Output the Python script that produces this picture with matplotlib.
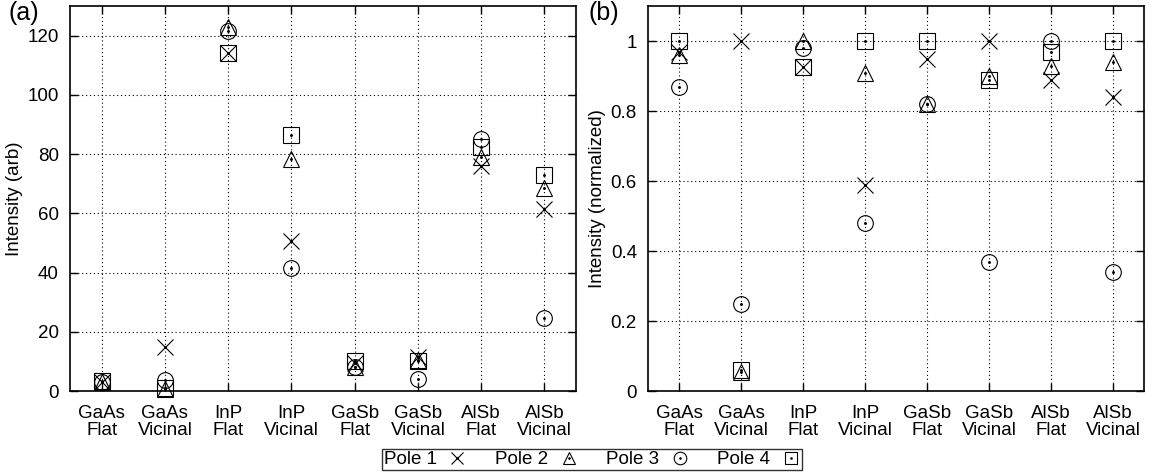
import matplotlib
matplotlib.use("Agg")
import matplotlib.pyplot as plt
from matplotlib.legend_handler import HandlerTuple

plt.rcParams['font.family'] = ['Liberation Sans', 'DejaVu Sans']

categories = ["GaAs\nFlat", "GaAs\nVicinal", "InP\nFlat", "InP\nVicinal",
              "GaSb\nFlat", "GaSb\nVicinal", "AlSb\nFlat", "AlSb\nVicinal"]
series = ["Pole 1", "Pole 2", "Pole 3", "Pole 4"]

# Panel (a): intensity (arb)
raw_p1 = [3.2, 15.0, 114.0, 50.5, 9.5, 11.5, 76.0, 61.5]
raw_p2 = [3.2, 0.8, 123.0, 78.5, 8.2, 10.4, 79.0, 68.5]
raw_p3 = [2.9, 3.8, 121.5, 41.5, 8.2, 4.2, 85.0, 24.5]
raw_p4 = [3.3, 0.9, 114.0, 86.5, 10.0, 10.2, 82.5, 73.0]

# Panel (b): intensity (normalized)
norm_p1 = [0.97, 1.00, 0.925, 0.59, 0.95, 1.00, 0.89, 0.84]
norm_p2 = [0.96, 0.055, 1.00, 0.91, 0.82, 0.90, 0.93, 0.94]
norm_p3 = [0.87, 0.25, 0.98, 0.48, 0.82, 0.37, 1.00, 0.34]
norm_p4 = [1.00, 0.06, 0.925, 1.00, 1.00, 0.89, 0.97, 1.00]

markers = ['x', '^', 'o', 's']
MS = 11.3
LW = 0.8
FS = 13.5

fig = plt.figure(figsize=(11.55, 4.72), dpi=100)
axA = fig.add_axes([70/1155, 81/472, 506/1155, 385/472])
axB = fig.add_axes([648/1155, 81/472, 496/1155, 385/472])

xs = list(range(1, len(categories) + 1))

def draw(ax, data, ylim, yticks, yticklabels, ylabel):
    handles = []
    for vals, m, name in zip(data, markers, series):
        h1, = ax.plot(xs, vals, linestyle='none', marker=m, ms=MS,
                      mfc='none', mec='black', mew=LW, clip_on=False, zorder=3)
        h2, = ax.plot(xs, vals, linestyle='none', marker='.', ms=2.2,
                      color='black', clip_on=False, zorder=3)
        handles.append((h1, h2))
    ax.set_xlim(0.5, 8.5)
    ax.set_ylim(*ylim)
    ax.set_xticks(xs)
    ax.set_xticklabels(categories, fontsize=FS, linespacing=1.0)
    ax.set_yticks(yticks)
    ax.set_yticklabels(yticklabels, fontsize=FS)
    ax.set_ylabel(ylabel, fontsize=13.5, labelpad=3)
    ax.tick_params(direction='in', length=6, width=1.0, top=True, right=True,
                   colors='black')
    ax.tick_params(axis='y', pad=8)
    ax.tick_params(axis='x', pad=10)
    ax.grid(True, color='black', linestyle=(0, (1, 2.5)), linewidth=0.8)
    for s in ax.spines.values():
        s.set_linewidth(1.2)
        s.set_zorder(4)
    return handles

hA = draw(axA, [raw_p1, raw_p2, raw_p3, raw_p4], (0, 130),
          [0, 20, 40, 60, 80, 100, 120], ['0', '20', '40', '60', '80', '100', '120'],
          'Intensity (arb)')
hB = draw(axB, [norm_p1, norm_p2, norm_p3, norm_p4], (0, 1.1),
          [0, 0.2, 0.4, 0.6, 0.8, 1.0], ['0', '0.2', '0.4', '0.6', '0.8', '1'],
          'Intensity (normalized)')

fig.text(9/1155, 1 - 1/472, '(a)', fontsize=18, va='top', ha='left')
fig.text(589/1155, 1 - 1/472, '(b)', fontsize=18, va='top', ha='left')

leg = fig.legend(hA, series, loc='lower center', bbox_to_anchor=(592/1155, 0.0),
                 ncol=4, markerfirst=False, fontsize=FS, frameon=True, fancybox=False,
                 edgecolor='black', handler_map={tuple: HandlerTuple(ndivide=1)},
                 handlelength=1.0, handletextpad=0.6, columnspacing=1.5,
                 borderpad=0.1, borderaxespad=0.1, markerscale=0.8)
leg.get_frame().set_linewidth(1.0)

fig.savefig('out.png', dpi=100)
